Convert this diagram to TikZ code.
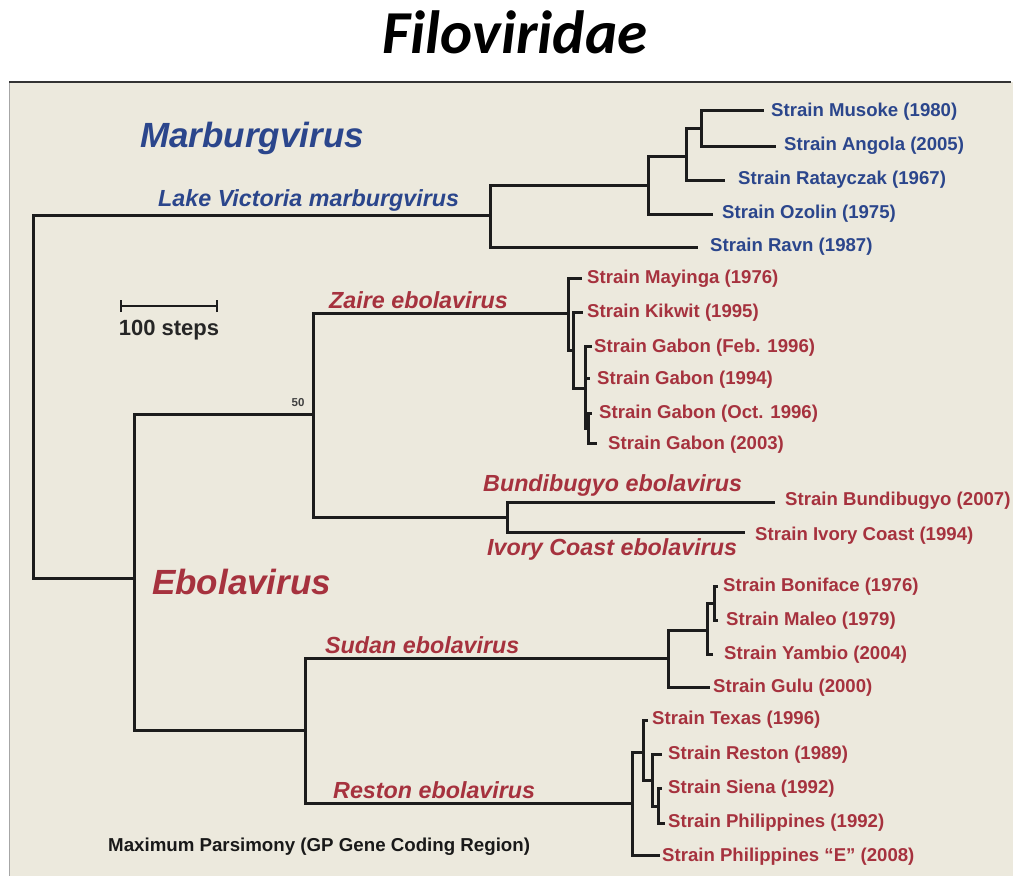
\documentclass[tikz,border=0pt]{standalone}
\usepackage{fontspec}
\setmainfont{Liberation Sans}
\newfontfamily\titlefont{Carlito}
\definecolor{bgbeige}{RGB}{236,233,221}
\definecolor{mblue}{RGB}{43,70,140}
\definecolor{ered}{RGB}{166,50,62}
\definecolor{treeline}{RGB}{28,28,28}
\tikzset{
  br/.style={draw=treeline,line width=3pt},
  strainM/.style={anchor=west,inner sep=0pt,yshift=-2pt,text=mblue,font=\fontsize{18.6}{21}\selectfont\bfseries},
  strainE/.style={anchor=west,inner sep=0pt,yshift=-2pt,text=ered,font=\fontsize{18.6}{21}\selectfont\bfseries},
  cladeM/.style={anchor=west,inner sep=0pt,yshift=-1.5pt,text=mblue,font=\fontsize{23.3}{27}\selectfont\bfseries\itshape},
  cladeE/.style={anchor=west,inner sep=0pt,yshift=-1.5pt,text=ered,font=\fontsize{23.3}{27}\selectfont\bfseries\itshape},
  genus/.style={anchor=west,inner sep=0pt,yshift=-2pt,font=\fontsize{35}{40}\selectfont\bfseries\itshape},
}
\begin{document}
\begin{tikzpicture}[x=1pt,y=-1pt]
\useasboundingbox (0,0) rectangle (1013,876);
% panel
\fill[bgbeige] (9,82) rectangle (1013,876);
\draw[gray!70,line width=1.2pt] (9.5,82) -- (9.5,876);
\draw[black!80,line width=2pt] (9,82) -- (1011,82);
% title
\node[font=\titlefont\fontsize{61}{66}\selectfont\bfseries\itshape] (title) at (515,32) {Filoviridae};

% ---- coordinates: internal nodes
\coordinate (root) at (33,397);
\coordinate (LV) at (490,215);
\coordinate (M1) at (648,185);
\coordinate (M2) at (686,156);
\coordinate (M3) at (701,128);
\coordinate (EB) at (134,578);
\coordinate (ZB) at (313,414);
\coordinate (Z1) at (568,313);
\coordinate (Z2) at (573,350);
\coordinate (Z3) at (585,388);
\coordinate (Z4) at (588,428);
\coordinate (BI) at (507,517);
\coordinate (SR) at (305,730);
\coordinate (S1) at (668,658);
\coordinate (S2) at (707,630);
\coordinate (S3) at (714,603);
\coordinate (R1) at (632,803);
\coordinate (R2) at (643,752);
\coordinate (R3) at (652,780);
\coordinate (R4) at (658,806);
% ---- tips
\coordinate (tMusoke) at (764,110);
\coordinate (tAngola) at (776,146);
\coordinate (tRatay) at (725,180);
\coordinate (tOzolin) at (713,214);
\coordinate (tRavn) at (698,247);
\coordinate (tMay) at (582,278);
\coordinate (tKik) at (583,312);
\coordinate (tFeb) at (592,346);
\coordinate (tG94) at (590,378);
\coordinate (tOct) at (592,413);
\coordinate (tG03) at (597,443);
\coordinate (tBun) at (775,502);
\coordinate (tIvo) at (745,532);
\coordinate (tBon) at (718,586);
\coordinate (tMal) at (718,620);
\coordinate (tYam) at (713,654);
\coordinate (tGulu) at (710,687);
\coordinate (tTex) at (648,720);
\coordinate (tRes) at (662,754);
\coordinate (tSie) at (662,788);
\coordinate (tPhi) at (665,823);
\coordinate (tPhE) at (660,855);

% ---- branches
\draw[br] (root) |- (LV);
\draw[br] (root) |- (EB);
\draw[br] (LV) |- (M1);
\draw[br] (LV) |- (tRavn);
\draw[br] (M1) |- (M2);
\draw[br] (M1) |- (tOzolin);
\draw[br] (M2) |- (M3);
\draw[br] (M2) |- (tRatay);
\draw[br] (M3) |- (tMusoke);
\draw[br] (M3) |- (tAngola);
\draw[br] (EB) |- (ZB);
\draw[br] (EB) |- (SR);
\draw[br] (ZB) |- (Z1);
\draw[br] (ZB) |- (BI);
\draw[br] (Z1) |- (tMay);
\draw[br] (Z1) |- (Z2);
\draw[br] (Z2) |- (tKik);
\draw[br] (Z2) |- (Z3);
\draw[br] (Z3) |- (tFeb);
\draw[br] (Z3) |- (tG94);
\draw[br] (Z3) |- (Z4);
\draw[br] (Z4) |- (tOct);
\draw[br] (Z4) |- (tG03);
\draw[br] (BI) |- (tBun);
\draw[br] (BI) |- (tIvo);
\draw[br] (SR) |- (S1);
\draw[br] (SR) |- (R1);
\draw[br] (S1) |- (S2);
\draw[br] (S1) |- (tGulu);
\draw[br] (S2) |- (S3);
\draw[br] (S2) |- (tYam);
\draw[br] (S3) |- (tBon);
\draw[br] (S3) |- (tMal);
\draw[br] (R1) |- (R2);
\draw[br] (R1) |- (tPhE);
\draw[br] (R2) |- (tTex);
\draw[br] (R2) |- (R3);
\draw[br] (R3) |- (tRes);
\draw[br] (R3) |- (R4);
\draw[br] (R4) |- (tSie);
\draw[br] (R4) |- (tPhi);

% ---- strain labels
\node[strainM] (lMusoke) at (771,110) {Strain Musoke (1980)};
\node[strainM] (lAngola) at (784,144) {Strain Angola (2005)};
\node[strainM] (lRatay) at (738,178) {Strain Ratayczak (1967)};
\node[strainM] (lOzolin) at (722,212) {Strain Ozolin (1975)};
\node[strainM] (lRavn) at (710,245) {Strain Ravn (1987)};
\node[strainE] (lMay) at (587,277) {Strain Mayinga (1976)};
\node[strainE] (lKik) at (587,311) {Strain Kikwit (1995)};
\node[strainE] (lFeb) at (594,346) {Strain Gabon (Feb. 1996)};
\node[strainE] (lG94) at (597,378) {Strain Gabon (1994)};
\node[strainE] (lOct) at (599,412) {Strain Gabon (Oct. 1996)};
\node[strainE] (lG03) at (608,443) {Strain Gabon (2003)};
\node[strainE] (lBun) at (785,499) {Strain Bundibugyo (2007)};
\node[strainE] (lIvo) at (755,534) {Strain Ivory Coast (1994)};
\node[strainE] (lBon) at (723,585) {Strain Boniface (1976)};
\node[strainE] (lMal) at (726,619) {Strain Maleo (1979)};
\node[strainE] (lYam) at (724,653) {Strain Yambio (2004)};
\node[strainE] (lGulu) at (713,686) {Strain Gulu (2000)};
\node[strainE] (lTex) at (652,718) {Strain Texas (1996)};
\node[strainE] (lRes) at (668,753) {Strain Reston (1989)};
\node[strainE] (lSie) at (668,787) {Strain Siena (1992)};
\node[strainE] (lPhi) at (668,821) {Strain Philippines (1992)};
\node[strainE] (lPhE) at (662,855) {Strain Philippines “E” (2008)};

% ---- clade labels
\node[genus,text=mblue] (gMar) at (140,136) {Marburgvirus};
\node[cladeM] (cLV) at (158,199) {Lake Victoria marburgvirus};
\node[genus,text=ered] (gEbo) at (152,580) {Ebolavirus};
\node[cladeE] (cZai) at (329,299) {Zaire ebolavirus};
\node[cladeE] (cBun) at (483,484) {Bundibugyo ebolavirus};
\node[cladeE] (cIvo) at (487,548) {Ivory Coast ebolavirus};
\node[cladeE] (cSud) at (325,644) {Sudan ebolavirus};
\node[cladeE] (cRes) at (333,789) {Reston ebolavirus};

% ---- bootstrap
\node[inner sep=0pt,text=black!75,font=\fontsize{11.5}{12}\selectfont\bfseries] (boot) at (298,403) {50};

% ---- scale bar
\coordinate (sbL) at (121,306);
\coordinate (sbR) at (217,306);
\draw[br,line width=2.4pt] (sbL) -- (sbR);
\draw[br,line width=2.4pt] ([yshift=-6pt]sbL) -- ([yshift=6pt]sbL);
\draw[br,line width=2.4pt] ([yshift=-6pt]sbR) -- ([yshift=6pt]sbR);
\node[inner sep=0pt,text=black!85,font=\fontsize{22}{24}\selectfont\bfseries] (sbT) at (169,330) {100 steps};

% ---- method
\node[anchor=west,inner sep=0pt,yshift=-2pt,text=black!90,font=\fontsize{18.7}{21}\selectfont\bfseries] (meth) at (108,845) {Maximum Parsimony (GP Gene Coding Region)};
\end{tikzpicture}
\end{document}
